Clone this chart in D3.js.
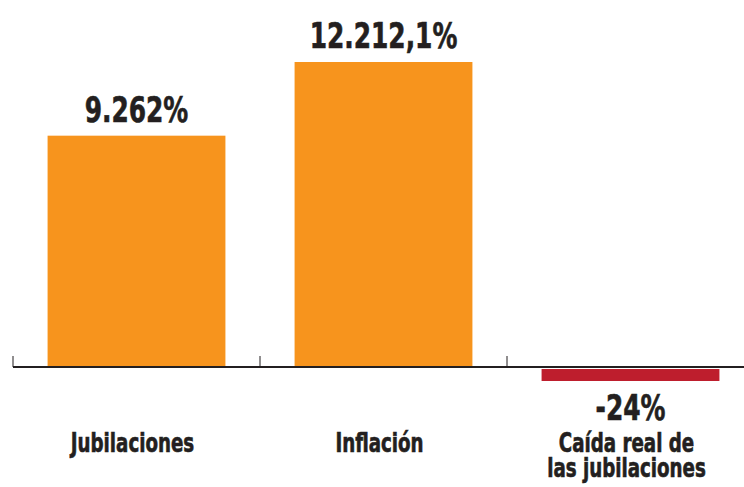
<!DOCTYPE html>
<html>
<head>
<meta charset="utf-8">
<script src="https://cdn.jsdelivr.net/npm/d3@7"></script>
<style>
  body { margin: 0; background: #fff; }
  svg { display: block; }
  text { font-family: "DejaVu Sans Condensed", "DejaVu Sans", sans-serif; font-weight: bold; fill: #231f20; stroke: #231f20; stroke-width: 0.6px; }
</style>
</head>
<body>
<svg id="canvas"></svg>
<script>
const svg = d3.select("#canvas");
const width = 744;
const height = 487;

svg.attr("width", width).attr("height", height);

// datos
const categories = ["Jubilaciones", "Inflación", "Caída real de\nlas jubilaciones"];
const values = [9262, 12212.1, -24];
const valueLabels = ["9.262%", "12.212,1%", "-24%"];

const colors = {
    "pos": "#f7941d",
    "neg": "#be1e2d"
};

const baseY = 367;

const x = d3.scaleBand()
    .domain(categories)
    .range([13, 754])
    .paddingInner(0.28)
    .paddingOuter(0.14);

const y = d3.scaleLinear()
    .domain([0, 12212.1])
    .range([baseY, 62]);

const data = categories.map((c, i) => ({ cat: c, value: values[i], label: valueLabels[i] }));

// la fuente es mas ancha que la del original: comprimir
function squeeze(sel, k) {
    sel.each(function () {
        const w = this.getComputedTextLength();
        d3.select(this)
            .attr("textLength", w * k)
            .attr("lengthAdjust", "spacingAndGlyphs");
    });
}

// barras
svg.selectAll("rect.bar")
    .data(data)
    .enter()
    .append("rect")
    .attr("class", "bar")
    .attr("x", d => x(d.cat))
    .attr("width", x.bandwidth())
    .attr("y", d => d.value >= 0 ? y(d.value) : baseY + 2)
    // la caída es muy pequeña a esta escala: alto mínimo visible
    .attr("height", d => d.value >= 0 ? baseY - y(d.value) : Math.max(y(d.value) - baseY, 12))
    .attr("fill", d => d.value >= 0 ? colors.pos : colors.neg);

// eje
const step = x.step();
const tickXs = categories.map(c => x(c) - x.paddingOuter() * step);

svg.append("line")
    .attr("x1", 13)
    .attr("x2", width)
    .attr("y1", baseY)
    .attr("y2", baseY)
    .attr("stroke", "#231f20")
    .attr("stroke-width", 2);

tickXs.forEach(tx => {
    svg.append("line")
        .attr("x1", tx)
        .attr("x2", tx)
        .attr("y1", baseY)
        .attr("y2", baseY - 11)
        .attr("stroke", "#231f20")
        .attr("stroke-width", 1);
});

// valores
svg.selectAll("text.value")
    .data(data)
    .enter()
    .append("text")
    .attr("class", "value")
    .attr("x", d => x(d.cat) + x.bandwidth() / 2)
    .attr("y", d => d.value >= 0 ? y(d.value) - 14 : 420)
    .attr("text-anchor", "middle")
    .attr("font-size", "35px")
    .text(d => d.label)
    .call(squeeze, 0.79);

// categorías
data.forEach(d => {
    const lines = d.cat.split("\n");
    lines.forEach((ln, j) => {
        svg.append("text")
            .attr("x", x(d.cat) + x.bandwidth() / 2 - 4)
            .attr("y", 452 + j * 25)
            .attr("text-anchor", "middle")
            .attr("font-size", "26px")
            .text(ln)
            .call(squeeze, 0.78);
    });
});
</script>
</body>
</html>
